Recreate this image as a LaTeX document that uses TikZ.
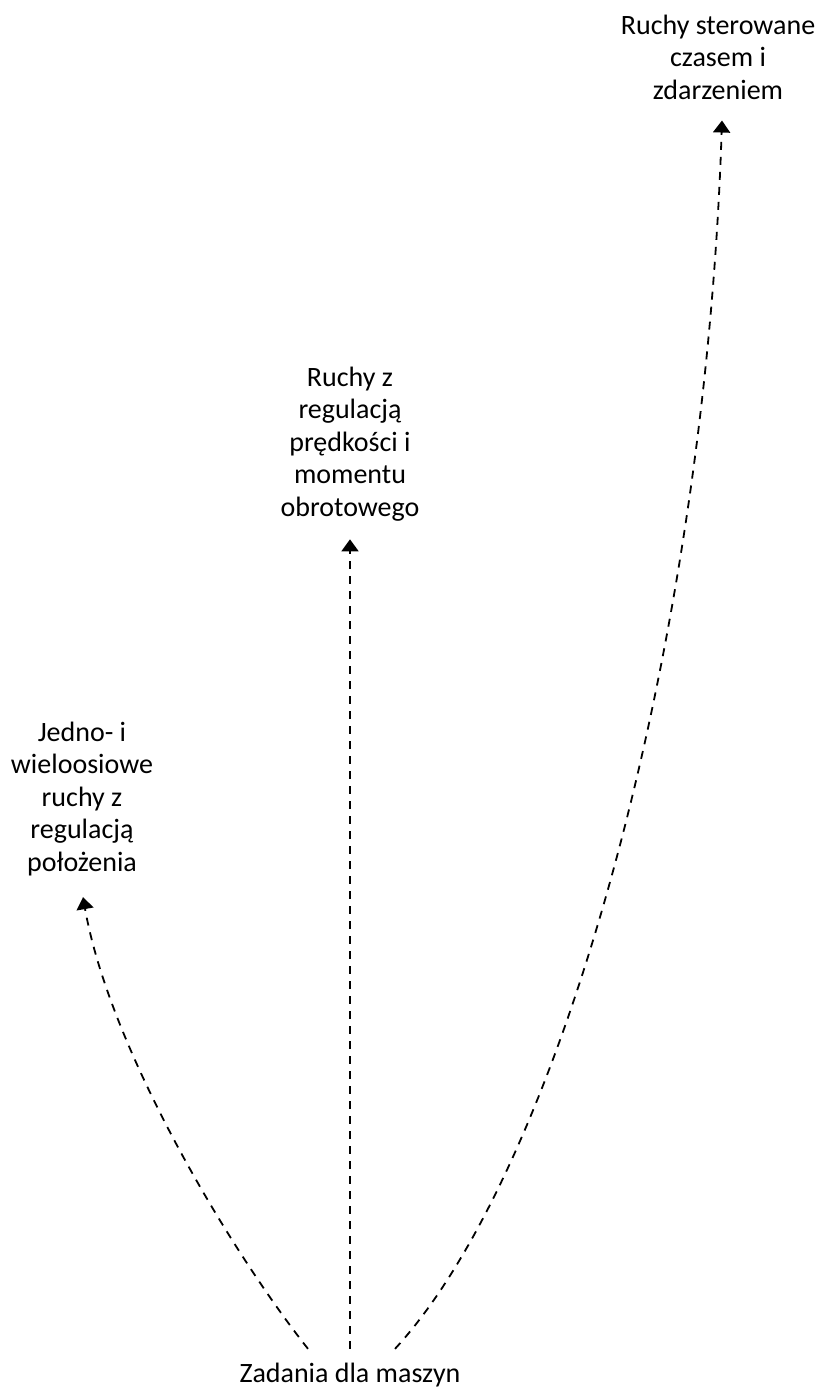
\documentclass[tikz,border=0pt]{standalone}
\usepackage{fontspec}
\setmainfont{Carlito}
\usetikzlibrary{arrows.meta,calc}
\begin{document}
\begin{tikzpicture}[x=1pt,y=-1pt,
  lbl/.style={align=center,inner sep=0pt,font=\fontsize{28}{32.5}\selectfont},
  flow/.style={line width=1.8pt,dash pattern=on 8pt off 7pt,
    -{Triangle[width=17pt,length=12pt]}}]
\useasboundingbox (0,0) rectangle (821,1387);

% labels
\node[lbl] (zad) at (350,1375) {Zadania dla maszyn};
\node[lbl] (pos) at (82,799) {Jedno- i\\wieloosiowe\\ruchy z\\regulacją\\położenia};
\node[lbl] (pred) at (350,444) {Ruchy z\\regulacją\\prędkości i\\momentu\\obrotowego};
\node[lbl] (czas) at (718,57) {Ruchy sterowane\\czasem i\\zdarzeniem};

% start points above the bottom label
\coordinate (s1) at ($(zad.north)+(-42,-14)$);
\coordinate (s2) at ($(zad.north)+(0,-14)$);
\coordinate (s3) at ($(zad.north)+(45,-14)$);

% connectors
\draw[flow] (s1) .. controls (230,1250) and (110,1050) .. ($(pos.south)+(1,21)$);
\draw[flow] (s2) -- ($(pred.south)+(0,18)$);
\draw[flow] (s3) .. controls (560,1170) and (705,650) .. ($(czas.south)+(4,21)$);
\end{tikzpicture}
\end{document}
